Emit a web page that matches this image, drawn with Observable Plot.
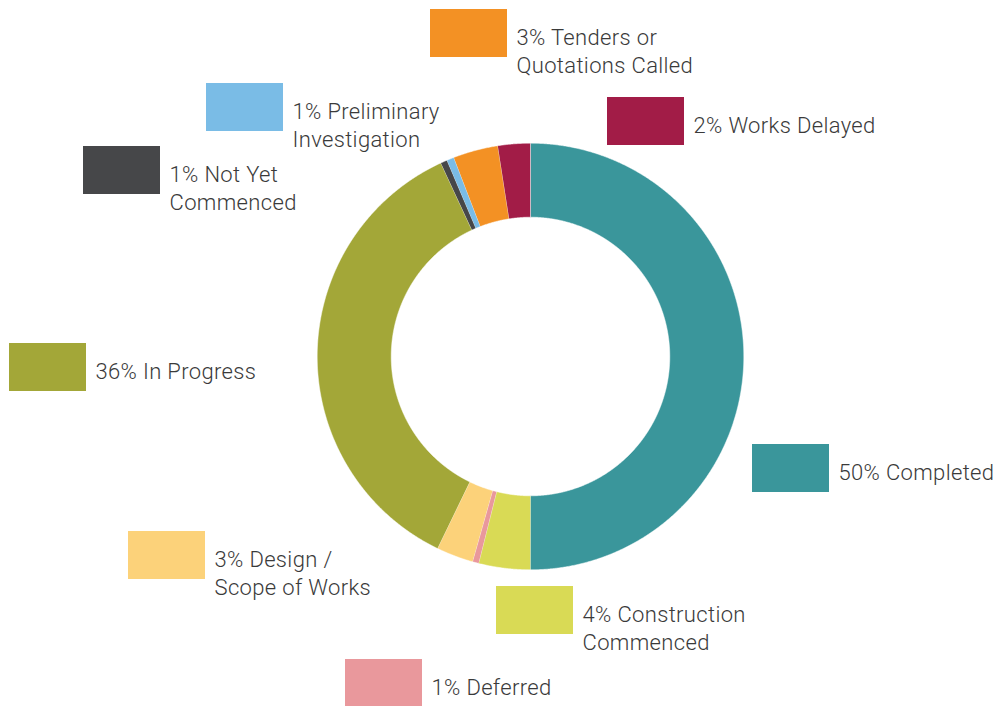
<!DOCTYPE html>
<html><head><meta charset="utf-8">
<script src="https://cdn.jsdelivr.net/npm/d3@7"></script>
<script src="https://cdn.jsdelivr.net/npm/@observablehq/plot@0.6"></script>
<style>html,body{margin:0;padding:0;background:#fff;overflow:hidden} svg text{letter-spacing:0.35px}</style>
</head><body><div id="chart"></div>
<script>
// ---- data ----
const categories = ["Completed","Construction Commenced","Deferred","Design / Scope of Works","In Progress","Not Yet Commenced","Preliminary Investigation","Tenders or Quotations Called","Works Delayed"];
const values = [50.0, 3.9, 0.47, 2.8, 35.9, 0.5, 0.55, 3.4, 2.45];
const labels = ["50% Completed","4% Construction\nCommenced","1% Deferred","3% Design /\nScope of Works","36% In Progress","1% Not Yet\nCommenced","1% Preliminary\nInvestigation","3% Tenders or\nQuotations Called","2% Works Delayed"];
// ---- styles ----
const colors = ["#3a969b","#d9da55","#e9989c","#fcd27a","#a3a738","#464749","#7abce6","#f39124","#a21c47"];
// ---- layout (legend swatch top-left corners) ----
const legendPos = [[752,444],[496,586],[345,659],[128,531],[9,343],[83,146],[206,83],[430,9],[607,97]];
const W = 999, H = 706, cx = 530, cy = 356, rOuter = 213.3, rInner = 139.3, swW = 77, swH = 48;

const arcs = d3.pie().sort(null).value(d => d)(values);
const pts = [];
arcs.forEach((a, i) => {
  const n = Math.max(6, Math.ceil((a.endAngle - a.startAngle) / 0.005));
  for (let k = 0; k <= n; k++) {
    const t = a.startAngle + (a.endAngle - a.startAngle) * k / n;
    pts.push({cat: categories[i], x: cx + rOuter * Math.sin(t), y: cy - rOuter * Math.cos(t)});
  }
  for (let k = n; k >= 0; k--) {
    const t = a.startAngle + (a.endAngle - a.startAngle) * k / n;
    pts.push({cat: categories[i], x: cx + rInner * Math.sin(t), y: cy - rInner * Math.cos(t)});
  }
});
const legend = categories.map((c, i) => ({cat: c, label: labels[i], x: legendPos[i][0], y: legendPos[i][1]}));

const chart = Plot.plot({
  width: W, height: H, margin: 0,
  x: {domain: [0, W], axis: null},
  y: {domain: [0, H], reverse: true, axis: null},
  color: {domain: categories, range: colors},
  style: {fontFamily: "Roboto, 'Open Sans', sans-serif", background: "#fff"},
  marks: [
    Plot.line(pts, {x: "x", y: "y", z: "cat", fill: "cat", stroke: "white", strokeWidth: 0.5, curve: "linear"}),
    Plot.rect(legend, {x1: "x", x2: d => d.x + swW, y1: "y", y2: d => d.y + swH, fill: "cat"}),
    Plot.text(legend, {x: "x", y: "y", text: "label", dx: swW + 9, dy: 16.5, lineAnchor: "top", textAnchor: "start", fontSize: 22, fontWeight: 300, lineHeight: 1.24, fill: "#3a3a3a"})
  ]
});
document.getElementById("chart").appendChild(chart);
</script>
</body></html>
